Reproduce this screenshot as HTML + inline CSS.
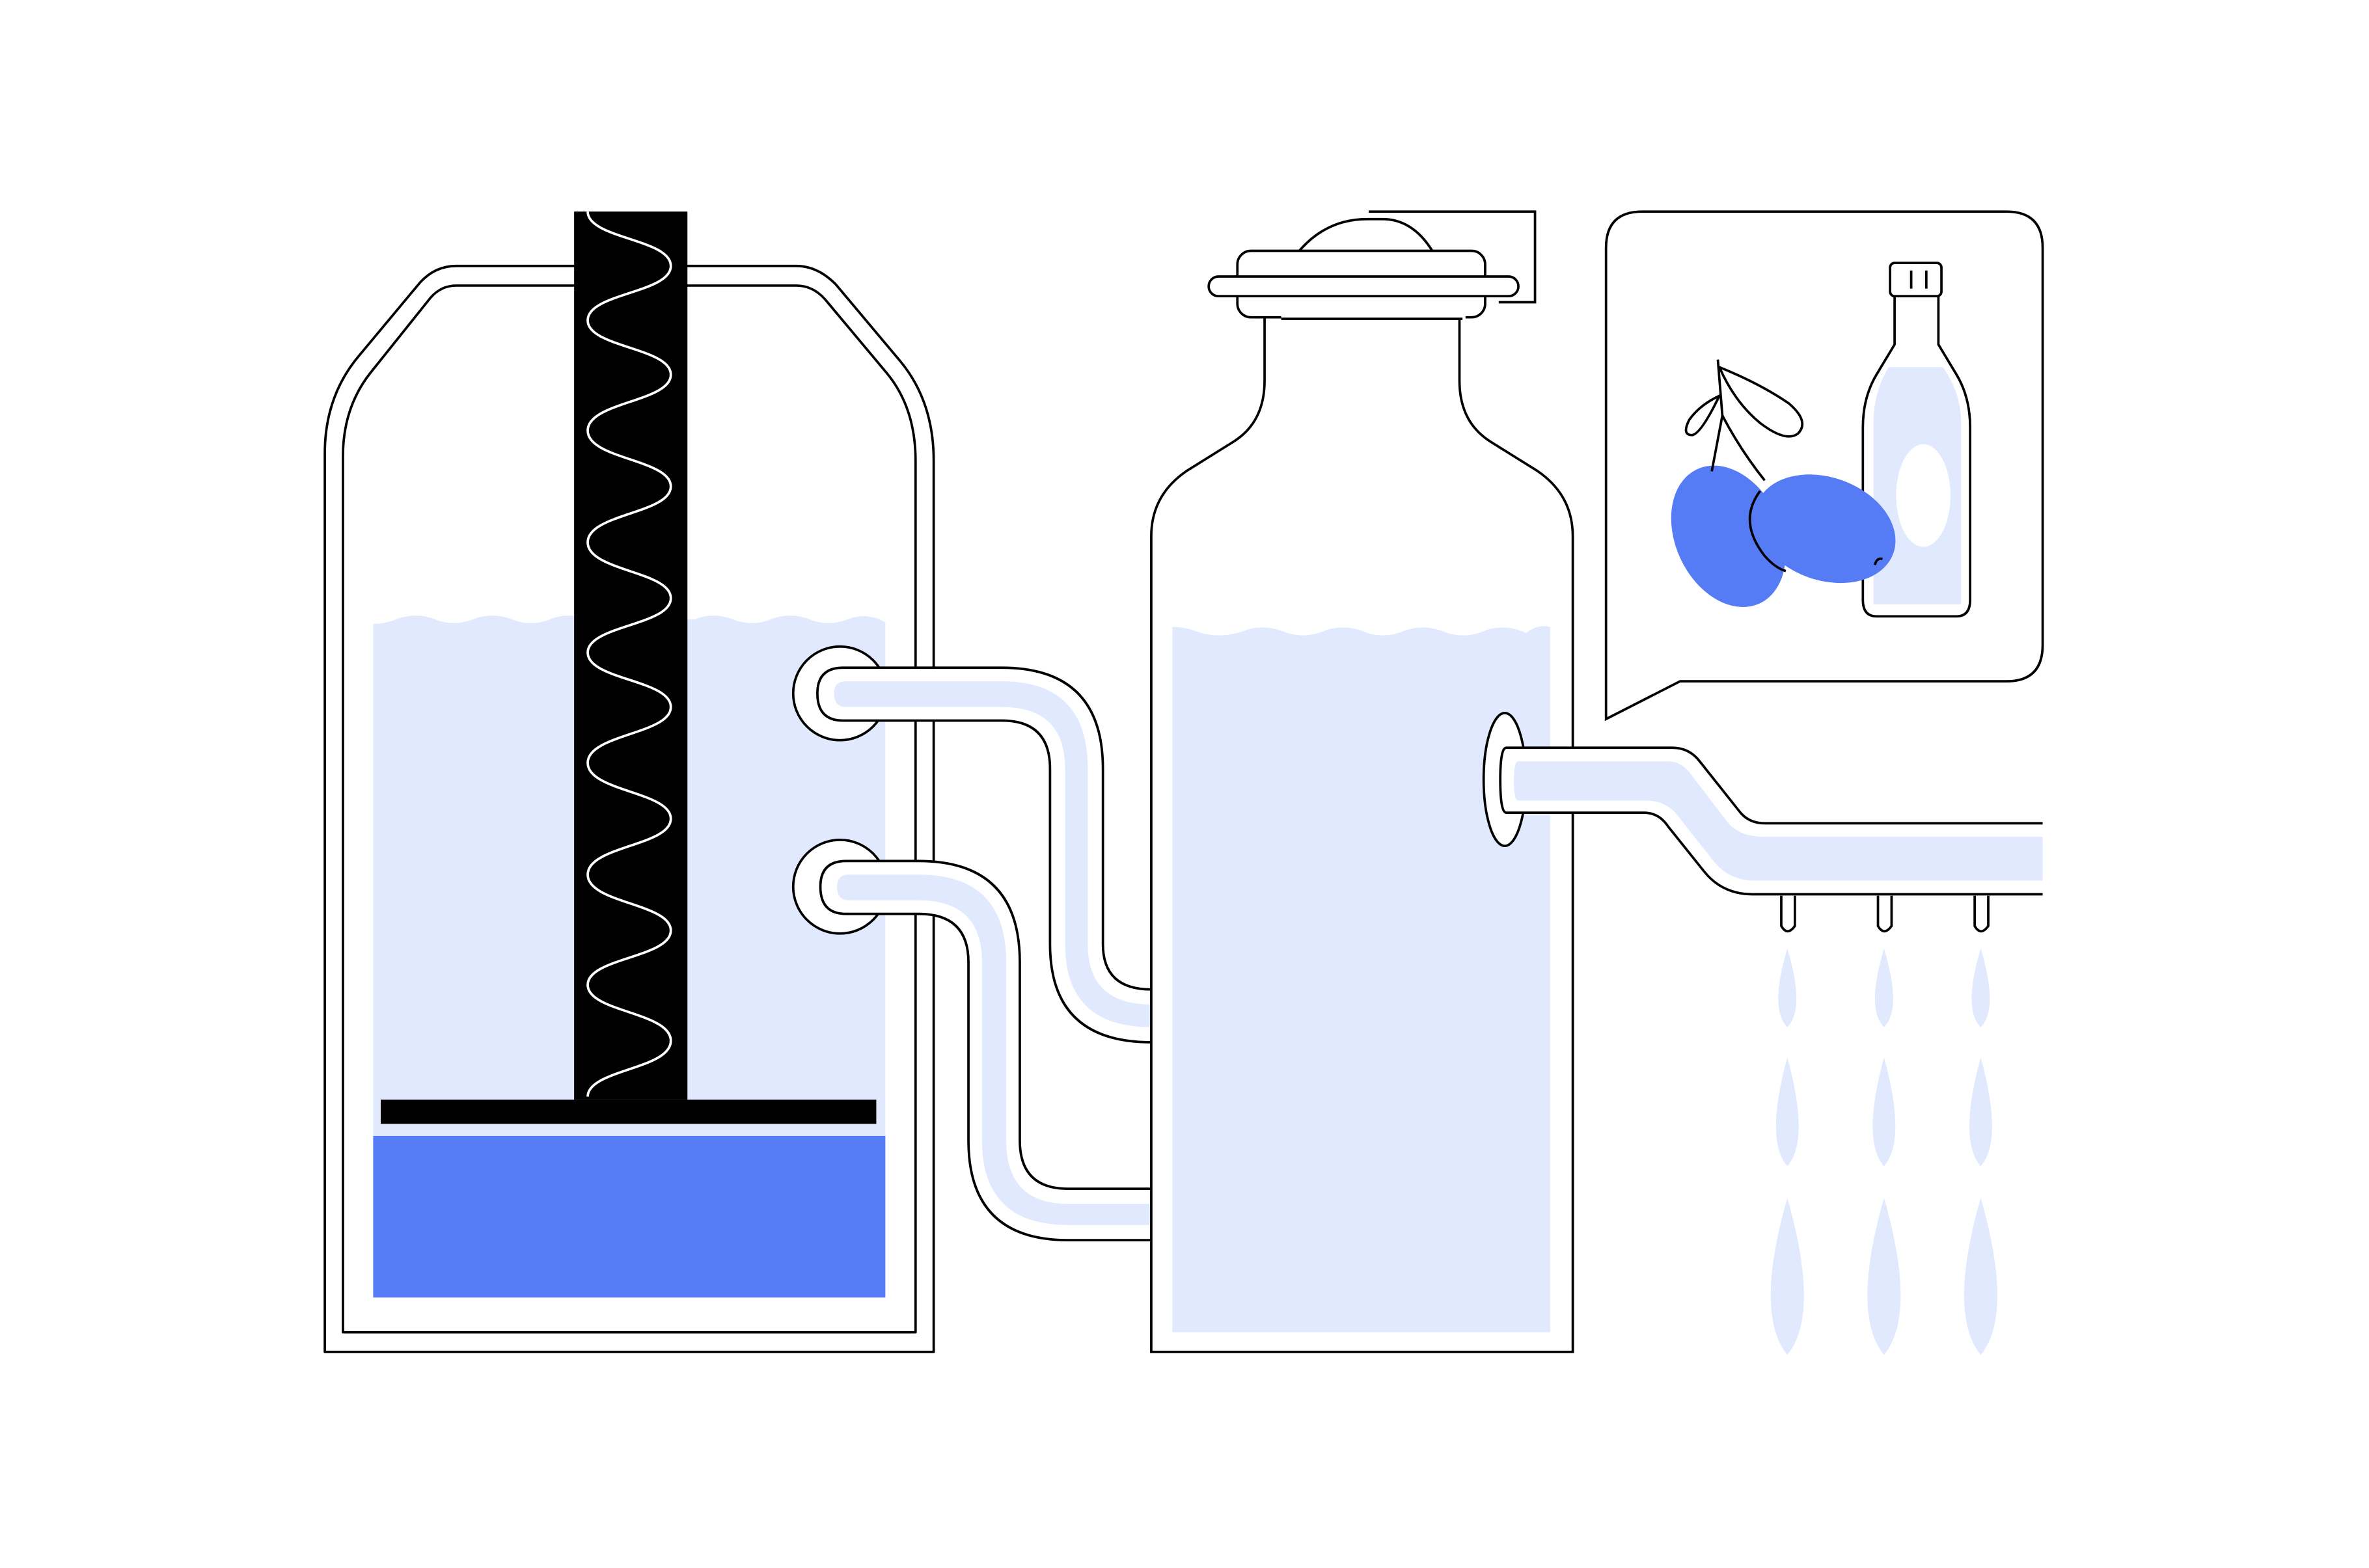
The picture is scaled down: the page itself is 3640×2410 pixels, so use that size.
<!DOCTYPE html>
<html><head><style>html,body{margin:0;padding:0;background:#fff}svg{display:block}</style></head>
<body>
<svg width="3640" height="2410" viewBox="0 0 1568 1038" xmlns="http://www.w3.org/2000/svg">
<g fill="none" stroke="#000" stroke-width="1.6" stroke-linejoin="round">
<path d="M215,895 L215,300 Q215,262 238,235 L278,187 Q288,176 302,176 L527,176 Q541,176 553,188 L595,238 Q618,265 618,305 L618,895 Z" fill="#fff"/>
<path d="M227,882 L227,302 Q227,270 245,247 L285,197 Q292,189 302,189 L527,189 Q538,189 546,198 L587,247 Q606,270 606,305 L606,882 Z"/>
</g>
<path d="M247,413 Q255,413 262,410 Q275,405 288,410 Q300,415 313,410 Q326,405 339,410 Q351,415 364,410 Q376,405 389,410 L460,410 Q472,405 485,410 Q498,415 510,410 Q523,405 536,410 Q548,415 561,410 Q574,405 586,412 L586,752 L247,752 Z" fill="#e0e9fd"/>
<rect x="247" y="752" width="339" height="107" fill="#557bf5"/>
<rect x="252" y="728" width="328" height="16" fill="#000"/>
<rect x="380" y="140" width="75" height="588" fill="#000"/>
<path d="M389,140 C389,158 444,158 444,176 C444,194 389,194 389,212 C389,230 444,230 444,248 C444,266 389,266 389,285 C389,304 444,304 444,322 C444,340 389,340 389,359 C389,378 444,378 444,396 C444,414 389,414 389,432 C389,450 444,450 444,468 C444,486 389,486 389,505 C389,524 444,524 444,542 C444,560 389,560 389,579 C389,598 444,598 444,616 C444,634 389,634 389,652 C389,670 444,670 444,689 C444,708 389,708 389,726" fill="none" stroke="#fff" stroke-width="1.6"/>
<g stroke="#000" stroke-width="1.6">
<circle cx="556" cy="459" r="31" fill="#fff"/>
<circle cx="556" cy="587" r="31" fill="#fff"/>
<path d="M558,442 L663,442 Q730,442 730,509 L730,625 Q730,655 762,655 L762,690 Q695,690 695,625 L695,509 Q695,477 663,477 L558,477 Q541,477 541,459 Q541,442 558,442 Z" fill="#fff"/>
<path d="M560,570 L608,570 Q675,570 675,637 L675,755 Q675,787 707,787 L762,787 L762,821 L707,821 Q641,821 641,755 L641,637 Q641,605 608,605 L560,605 Q543,605 543,587 Q543,570 560,570 Z" fill="#fff"/>
</g>
<path d="M560,451 L663,451 Q720,451 720,509 L720,625 Q720,665 762,665 L762,680 Q705,680 705,625 L705,509 Q705,468 663,468 L560,468 Q552,468 552,459 Q552,451 560,451 Z" fill="#e0e9fd"/>
<path d="M562,579 L608,579 Q666,579 666,637 L666,755 Q666,797 707,797 L762,797 L762,811 L707,811 Q650,811 650,755 L650,637 Q650,596 608,596 L562,596 Q554,596 554,587 Q554,579 562,579 Z" fill="#e0e9fd"/>
<path d="M762,895 L762,355 Q762,328 785,312 L817,292 Q837,279 837,252 L837,210 L966,210 L966,252 Q966,279 986,292 L1018,312 Q1041,328 1041,355 L1041,895 Z" fill="#fff" stroke="#000" stroke-width="1.6"/>
<path d="M776,415 Q785,415 795,419 Q810,423 825,417 Q838,413 852,419 Q865,423 878,417 Q892,413 905,419 Q918,423 931,417 Q944,413 958,419 Q971,423 984,417 Q997,413 1010,419 Q1018,413 1026,415 L1026,882 L776,882 Z" fill="#e0e9fd"/>
<g fill="#fff" stroke="#000" stroke-width="1.6">
<path d="M860,166 Q878,145 905,145 L915,145 Q935,145 948,166"/>
<rect x="819" y="166" width="164" height="44" rx="9"/>
<rect x="800" y="183" width="205" height="13" rx="6.5"/>
<path d="M848,210 L970,210" stroke="#fff" stroke-width="3"/>
<path d="M848,211 L968,211" />
<path d="M906,140 L1016,140 L1016,200 L992,200" fill="none"/>
</g>
<g stroke="#000" stroke-width="1.6">
<ellipse cx="996" cy="516" rx="14" ry="44" fill="#fff"/>
<path d="M1352,545 L1168,545 Q1158,545 1152,538 L1125,504 Q1118,495 1107,495 L997,495 Q993,495 993,516 Q993,538 997,538 L1088,538 Q1098,538 1104,547 L1128,577 Q1140,592 1160,592 L1352,592" fill="#fff"/>
</g>
<path d="M1005,504 L1104,504 Q1112,504 1118,511 L1144,545 Q1152,554 1168,554 L1352,554 L1352,583 L1162,583 Q1145,583 1135,571 L1112,542 Q1104,530 1090,530 L1005,530 Q1002,530 1002,517 Q1002,504 1005,504 Z" fill="#e0e9fd"/>
<g fill="#fff" stroke="#000" stroke-width="1.6">
<path d="M1179,593 L1179,613 Q1183,620 1188,613 L1188,593"/>
<path d="M1243,593 L1243,613 Q1247,620 1252,613 L1252,593"/>
<path d="M1307,593 L1307,613 Q1311,620 1316,613 L1316,593"/>
</g>
<g fill="#e0e9fd">
<path d="M1183,628 Q1195,668 1183,680 Q1171,668 1183,628Z"/>
<path d="M1247,628 Q1259,668 1247,680 Q1235,668 1247,628Z"/>
<path d="M1311,628 Q1323,668 1311,680 Q1299,668 1311,628Z"/>
<path d="M1183,700 Q1198,755 1183,772 Q1168,755 1183,700Z"/>
<path d="M1247,700 Q1262,755 1247,772 Q1232,755 1247,700Z"/>
<path d="M1311,700 Q1326,755 1311,772 Q1296,755 1311,700Z"/>
<path d="M1183,793 Q1205,870 1183,897 Q1161,870 1183,793Z"/>
<path d="M1247,793 Q1269,870 1247,897 Q1225,870 1247,793Z"/>
<path d="M1311,793 Q1333,870 1311,897 Q1289,870 1311,793Z"/>
</g>
<path d="M1087,140 L1328,140 Q1352,140 1352,164 L1352,427 Q1352,451 1328,451 L1112,451 L1063,476 L1063,164 Q1063,140 1087,140 Z" fill="#fff" stroke="#000" stroke-width="1.6"/>
<g stroke="#000" stroke-width="1.6" fill="#fff">
<path d="M1254,196 L1254,228 L1242,248 Q1233,263 1233,283 L1233,397 Q1233,408 1242,408 L1295,408 Q1304,408 1304,397 L1304,283 Q1304,263 1295,248 L1283,228 L1283,196 Z"/>
</g>
<path d="M1250,243 L1286,243 Q1298,260 1298,280 L1298,400 L1240,400 L1240,280 Q1240,260 1250,243Z" fill="#e0e9fd"/>
<ellipse cx="1273" cy="328" rx="18" ry="34" fill="#fff"/>
<g stroke="#000" stroke-width="1.6" fill="#fff">
<rect x="1251" y="174" width="34" height="22" rx="3"/>
<path d="M1265,179 L1265,191 M1275,179 L1275,191" />
</g>
<ellipse cx="1144" cy="355" rx="35" ry="49" transform="rotate(-25 1144 355)" fill="#557bf5"/>
<ellipse cx="1208" cy="350" rx="48" ry="34" transform="rotate(20 1208 350)" fill="#557bf5"/>
<path d="M1165,325 Q1150,345 1168,368 Q1175,376 1182,378" fill="none" stroke="#000" stroke-width="1.6"/>
<g fill="none" stroke="#000" stroke-width="1.6">
<path d="M1137,238 L1140,275 L1133,312"/>
<path d="M1140,275 Q1152,298 1168,318"/>
<path d="M1138,243 Q1165,254 1184,267 Q1198,279 1190,287 Q1182,293 1165,280 Q1148,266 1138,243Z" fill="#fff"/>
<path d="M1138,262 Q1125,268 1118,278 Q1113,288 1120,288 Q1126,287 1138,262Z" fill="#fff"/>
<path d="M1241,374 Q1242,369 1246,370"/>
</g>
</svg>
</body></html>
